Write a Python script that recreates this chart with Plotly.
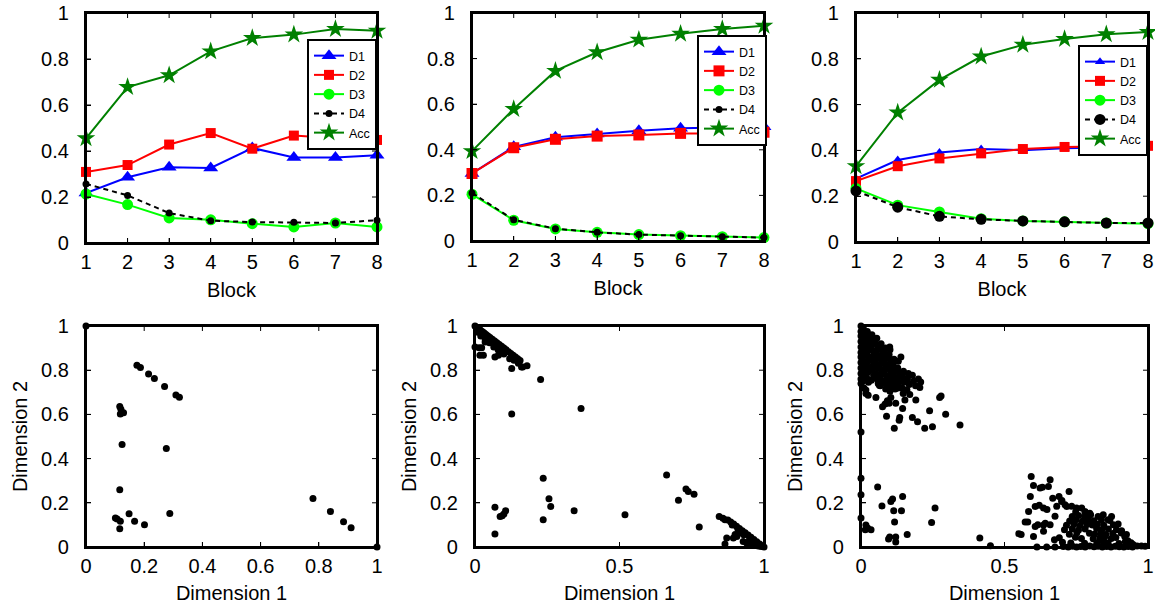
import plotly.graph_objects as go

# ---------------- data ----------------
blocks = [1, 2, 3, 4, 5, 6, 7, 8]
series_names = ["D1", "D2", "D3", "D4", "Acc"]
unit_ticks = [0, 0.2, 0.4, 0.6, 0.8, 1]
half_ticks = [0, 0.5, 1]

p1_d1 = [0.217, 0.286, 0.329, 0.326, 0.413, 0.372, 0.372, 0.381]
p1_d2 = [0.309, 0.339, 0.428, 0.478, 0.410, 0.467, 0.455, 0.448]
p1_d3 = [0.213, 0.167, 0.109, 0.101, 0.084, 0.070, 0.087, 0.070]
p1_d4 = [0.257, 0.207, 0.130, 0.097, 0.091, 0.090, 0.087, 0.099]
p1_acc = [0.455, 0.678, 0.729, 0.833, 0.891, 0.906, 0.930, 0.923]

p2_d1 = [0.296, 0.413, 0.455, 0.469, 0.484, 0.494, 0.499, 0.501]
p2_d2 = [0.296, 0.409, 0.446, 0.460, 0.465, 0.472, 0.472, 0.477]
p2_d3 = [0.205, 0.091, 0.053, 0.038, 0.028, 0.023, 0.019, 0.015]
p2_d4 = [0.211, 0.093, 0.054, 0.038, 0.028, 0.023, 0.019, 0.015]
p2_acc = [0.394, 0.579, 0.746, 0.828, 0.883, 0.909, 0.930, 0.944]

p3_d1 = [0.277, 0.358, 0.391, 0.406, 0.401, 0.409, 0.413, 0.415]
p3_d2 = [0.266, 0.331, 0.365, 0.387, 0.406, 0.415, 0.416, 0.420]
p3_d3 = [0.234, 0.161, 0.131, 0.102, 0.092, 0.088, 0.083, 0.080]
p3_d4 = [0.223, 0.152, 0.112, 0.099, 0.092, 0.088, 0.083, 0.083]
p3_acc = [0.331, 0.565, 0.708, 0.810, 0.861, 0.886, 0.907, 0.917]

# bottom-left scatter
s1_x = [0.0, 1.0, 0.175, 0.187, 0.215, 0.235, 0.270, 0.309, 0.321, 0.116, 0.120, 0.118, 0.129,
        0.124, 0.276, 0.116, 0.101, 0.107, 0.118, 0.116, 0.148, 0.167, 0.201, 0.288, 0.780,
        0.840, 0.885, 0.911]
s1_y = [1.0, 0.0, 0.822, 0.812, 0.783, 0.762, 0.726, 0.688, 0.678, 0.636, 0.623, 0.602, 0.608,
        0.464, 0.446, 0.259, 0.131, 0.127, 0.116, 0.083, 0.151, 0.116, 0.101, 0.152, 0.220,
        0.161, 0.114, 0.087]

# bottom-middle scatter
s2_pts = [
    (0.0, 1.0), (0.004, 0.996), (0.008, 0.992), (0.012, 0.988), (0.016, 0.984), (0.02, 0.98),
    (0.026, 0.974), (0.032, 0.968), (0.038, 0.962), (0.045, 0.955), (0.052, 0.948), (0.06, 0.94),
    (0.068, 0.932), (0.076, 0.924), (0.084, 0.916), (0.092, 0.908), (0.1, 0.9), (0.108, 0.892),
    (0.116, 0.884), (0.124, 0.876), (0.132, 0.868), (0.14, 0.86), (0.148, 0.852), (0.156, 0.844),
    (0.01, 0.972), (0.02, 0.955), (0.035, 0.942), (0.05, 0.924), (0.065, 0.905), (0.08, 0.893),
    (0.1, 0.873), (0.12, 0.852), (0.135, 0.845), (0.15, 0.832), (0.165, 0.815), (0.18, 0.82),
    (0.0, 0.905), (0.014, 0.902), (0.023, 0.902), (0.017, 0.868), (0.029, 0.868), (0.035, 0.928),
    (0.069, 0.86), (0.081, 0.868), (0.092, 0.883), (0.127, 0.808), (0.161, 0.815),
    (0.227, 0.758), (0.127, 0.602), (0.367, 0.627), (0.236, 0.311), (0.256, 0.218), (0.262, 0.183),
    (0.236, 0.123), (0.069, 0.18), (0.087, 0.138), (0.094, 0.141), (0.1, 0.149), (0.106, 0.164),
    (0.069, 0.059), (0.343, 0.164), (0.519, 0.146), (0.663, 0.326), (0.704, 0.211), (0.730, 0.263),
    (0.738, 0.251), (0.758, 0.239), (0.776, 0.09),
    (0.845, 0.138), (0.858, 0.13), (0.865, 0.123), (0.875, 0.122), (0.885, 0.113), (0.895, 0.104),
    (0.905, 0.094), (0.915, 0.084), (0.925, 0.074), (0.935, 0.064), (0.945, 0.054), (0.955, 0.044),
    (0.965, 0.034), (0.975, 0.024), (0.985, 0.014), (0.993, 0.006), (1.0, 0.0),
    (0.871, 0.041), (0.865, 0.014), (0.894, 0.041), (0.906, 0.048), (0.917, 0.063), (0.9, 0.056),
    (0.928, 0.025), (0.94, 0.018), (0.951, 0.011), (0.969, 0.008), (0.91, 0.08), (0.93, 0.055),
    (0.95, 0.035), (0.96, 0.02), (0.98, 0.005), (0.99, 0.002), (0.92, 0.07), (0.89, 0.1),
]
s2_x = [p[0] for p in s2_pts]
s2_y = [p[1] for p in s2_pts]

# bottom-right scatter
s3_pts = [
    # upper-left cluster
    (0.0, 1.0), (0.0, 0.975), (0.0, 0.955), (0.0, 0.93), (0.0, 0.905), (0.0, 0.88), (0.0, 0.86),
    (0.0, 0.835), (0.0, 0.81), (0.0, 0.785), (0.0, 0.76), (0.0, 0.74),
    (0.008, 0.99), (0.01, 0.965), (0.006, 0.94), (0.012, 0.915), (0.008, 0.895), (0.011, 0.87),
    (0.007, 0.845), (0.013, 0.82), (0.009, 0.8), (0.012, 0.775), (0.006, 0.75), (0.01, 0.72),
    (0.022, 0.975), (0.025, 0.95), (0.02, 0.93), (0.027, 0.905), (0.023, 0.885), (0.026, 0.86),
    (0.021, 0.835), (0.028, 0.81), (0.024, 0.79), (0.02, 0.765), (0.026, 0.745),
    (0.038, 0.96), (0.042, 0.935), (0.036, 0.915), (0.04, 0.89), (0.043, 0.865), (0.037, 0.845),
    (0.041, 0.82), (0.039, 0.8), (0.044, 0.775), (0.036, 0.755),
    (0.055, 0.945), (0.052, 0.92), (0.058, 0.9), (0.054, 0.875), (0.057, 0.855), (0.051, 0.83),
    (0.059, 0.81), (0.053, 0.785), (0.056, 0.76), (0.06, 0.74),
    (0.07, 0.92), (0.068, 0.895), (0.073, 0.87), (0.071, 0.85), (0.066, 0.825), (0.074, 0.8),
    (0.069, 0.78), (0.072, 0.755), (0.067, 0.73),
    (0.085, 0.9), (0.082, 0.875), (0.088, 0.855), (0.084, 0.83), (0.087, 0.81), (0.081, 0.785),
    (0.089, 0.76), (0.083, 0.74), (0.086, 0.715),
    (0.1, 0.905), (0.098, 0.87), (0.103, 0.845), (0.097, 0.82), (0.102, 0.8), (0.099, 0.775),
    (0.104, 0.75), (0.096, 0.73), (0.101, 0.705),
    (0.115, 0.85), (0.112, 0.825), (0.118, 0.805), (0.113, 0.78), (0.117, 0.76), (0.111, 0.735),
    (0.119, 0.715), (0.13, 0.84), (0.128, 0.81), (0.133, 0.79), (0.127, 0.765), (0.132, 0.745),
    (0.129, 0.72), (0.139, 0.86), (0.148, 0.795), (0.145, 0.77), (0.15, 0.745), (0.143, 0.72),
    (0.147, 0.695), (0.165, 0.785), (0.162, 0.76), (0.168, 0.735), (0.16, 0.71), (0.17, 0.69),
    (0.179, 0.777), (0.183, 0.75), (0.19, 0.73), (0.205, 0.722), (0.208, 0.747), (0.2, 0.76),
    (0.025, 0.687), (0.017, 0.695), (0.052, 0.677), (0.075, 0.635), (0.089, 0.592), (0.084, 0.647),
    (0.098, 0.65), (0.116, 0.537), (0.133, 0.574), (0.135, 0.586), (0.145, 0.627), (0.153, 0.665),
    (0.179, 0.586), (0.197, 0.567), (0.156, 0.71), (0.191, 0.665), (0.222, 0.537), (0.239, 0.617),
    (0.249, 0.544), (0.274, 0.677), (0.279, 0.683), (0.295, 0.601), (0.345, 0.552), (0.121, 0.65),
    (0.104, 0.677), (0.092, 0.662), (0.101, 0.893), (0.092, 0.86), (0.064, 0.898), (0.058, 0.853),
    (0.029, 0.95), (0.046, 0.77), (0.064, 0.732), (0.017, 0.71), (0.11, 0.725), (0.127, 0.747),
    (0.116, 0.762), (0.081, 0.747), (0.081, 0.785), (0.0, 0.52), (0.0, 0.311), (0.0, 0.236),
    (0.0, 0.131),
    # lower-left scatter
    (0.058, 0.271), (0.073, 0.186), (0.104, 0.206), (0.11, 0.217), (0.114, 0.164), (0.141, 0.164),
    (0.145, 0.229), (0.117, 0.113), (0.096, 0.036), (0.1, 0.045), (0.121, 0.045), (0.121, 0.023),
    (0.161, 0.056), (0.246, 0.111), (0.258, 0.176), (0.017, 0.1), (0.023, 0.086), (0.035, 0.078),
    (0.015, 0.078), (0.414, 0.041), (0.451, 0.006),
    # lower-right cluster (outer)
    (0.593, 0.319), (0.601, 0.278), (0.624, 0.267), (0.632, 0.27), (0.659, 0.304), (0.653, 0.274),
    (0.668, 0.221), (0.69, 0.229), (0.70, 0.21), (0.725, 0.251), (0.59, 0.229), (0.607, 0.183),
    (0.621, 0.189), (0.636, 0.176), (0.648, 0.17), (0.584, 0.161), (0.572, 0.113), (0.581, 0.113),
    (0.558, 0.056), (0.55, 0.06), (0.601, 0.048), (0.607, 0.093), (0.636, 0.1), (0.659, 0.101),
    (0.676, 0.139), (0.682, 0.184), (0.711, 0.191), (0.734, 0.184), (0.751, 0.176), (0.769, 0.176),
    (0.78, 0.161), (0.797, 0.153), (0.826, 0.138), (0.844, 0.146), (0.861, 0.123), (0.879, 0.101),
    (0.89, 0.078), (0.907, 0.063), (0.919, 0.048), (0.93, 0.028), (0.642, 0.108), (0.616, 0.101),
    (0.636, 0.071), (0.674, 0.033), (0.699, 0.206), (0.717, 0.183), (0.8, 0.146), (0.838, 0.123),
    (0.873, 0.138), (0.867, 0.12), (0.896, 0.104), (0.908, 0.074), (0.925, 0.056), (0.948, 0.011),
    # lower-right cluster (core)
    (0.613, 0.0), (0.647, 0.0), (0.676, 0.0), (0.705, 0.002), (0.722, 0.0), (0.737, 0.003),
    (0.751, 0.0), (0.766, 0.002), (0.781, 0.0), (0.797, 0.004), (0.812, 0.001), (0.826, 0.003),
    (0.841, 0.0), (0.856, 0.002), (0.871, 0.0), (0.886, 0.003), (0.9, 0.001), (0.916, 0.0),
    (0.931, 0.002), (0.946, 0.0), (0.962, 0.004), (0.977, 0.005), (0.99, 0.003),
    (0.702, 0.021), (0.731, 0.018), (0.779, 0.017), (0.822, 0.019),
    (0.843, 0.025), (0.861, 0.018), (0.899, 0.016), (0.921, 0.024), (0.941, 0.019),
    (0.691, 0.042), (0.747, 0.044), (0.768, 0.039), (0.809, 0.037),
    (0.832, 0.041), (0.849, 0.045), (0.872, 0.038), (0.888, 0.043),
    (0.726, 0.058), (0.752, 0.064), (0.796, 0.062), (0.814, 0.059),
    (0.836, 0.063), (0.853, 0.057), (0.877, 0.061),
    (0.709, 0.078), (0.736, 0.083), (0.758, 0.077), (0.781, 0.082),
    (0.821, 0.084), (0.839, 0.078), (0.862, 0.081),
    (0.716, 0.098), (0.742, 0.103), (0.763, 0.097), (0.787, 0.102), (0.806, 0.099),
    (0.824, 0.104), (0.846, 0.098),
    (0.727, 0.118), (0.749, 0.123), (0.771, 0.117), (0.792, 0.122), (0.811, 0.119),
    (0.736, 0.138), (0.758, 0.143), (0.779, 0.137),
    (0.748, 0.158),
]
s3_x = [p[0] for p in s3_pts]
s3_y = [p[1] for p in s3_pts]

# ---------------- styling ----------------
FONT = "Liberation Sans, Arial, Helvetica, sans-serif"
BLUE, RED, LIME, BLACK, DKGREEN = "#0000ff", "#ff0000", "#00ff00", "#000000", "#008000"
W, H = 1155, 616
NB = "\u00a0\u00a0"  # gap between y tick labels and the axis

# panel boxes in pixels: (left, right, top, bottom)
tops = [(86, 377, 13, 243), (472, 764, 13, 241), (856, 1148, 13, 242)]
bots = [(86, 377, 326, 547), (475, 764, 326, 547), (861, 1148, 326, 547)]

panels_top = [
    (p1_d1, p1_d2, p1_d3, p1_d4, p1_acc, "legend", (13, 10, 11, 7, 14)),
    (p2_d1, p2_d2, p2_d3, p2_d4, p2_acc, "legend2", (13, 11, 11, 7, 14)),
    (p3_d1, p3_d2, p3_d3, p3_d4, p3_acc, "legend3", (9, 10, 11, 11, 14)),
]

fig = go.Figure()

for i, (d1, d2, d3, d4, acc, leg, sz) in enumerate(panels_top):
    ax = "" if i == 0 else str(i + 1)
    specs = [
        (d1, BLUE, "triangle-up", "solid", sz[0]),
        (d2, RED, "square", "solid", sz[1]),
        (d3, LIME, "circle", "solid", sz[2]),
        (d4, BLACK, "circle", "5px,4px", sz[3]),
        (acc, DKGREEN, "star", "solid", sz[4]),
    ]
    for name, (vals, col, sym, dash, msz) in zip(series_names, specs):
        fig.add_trace(go.Scatter(
            x=blocks, y=vals, name=name, mode="lines+markers",
            line=dict(color=col, width=2, dash=dash),
            marker=dict(color=col, symbol=sym, size=msz),
            xaxis="x" + ax, yaxis="y" + ax, legend=leg, cliponaxis=False,
        ))

for j, (sx, sy) in enumerate([(s1_x, s1_y), (s2_x, s2_y), (s3_x, s3_y)]):
    n = str(j + 4)
    fig.add_trace(go.Scatter(
        x=sx, y=sy, mode="markers", showlegend=False,
        marker=dict(color="black", size=7, symbol="circle"),
        xaxis="x" + n, yaxis="y" + n, cliponaxis=False,
    ))


def xd(a, b):
    return [a / W, b / W]


def yd(top, bot):
    return [1 - bot / H, 1 - top / H]


axis_common = dict(
    showline=True, mirror=True, linecolor="black", linewidth=2,
    ticks="inside", tickcolor="black", ticklen=5,
    tickfont=dict(family=FONT, size=20, color="black"), automargin=False,
)

layout = dict(
    width=W, height=H, margin=dict(l=0, r=0, t=0, b=0),
    paper_bgcolor="white", plot_bgcolor="rgba(0,0,0,0)",
)

panel_defs = []  # (axis suffix, x range, y range, x ticks, y ticks, box)
for i, box in enumerate(tops):
    panel_defs.append(("" if i == 0 else str(i + 1), [1, 8], [0, 1], blocks, unit_ticks, box))
for j, box in enumerate(bots):
    panel_defs.append((str(j + 4), [0, 1], [0, 1], unit_ticks if j == 0 else half_ticks,
                       unit_ticks, box))

for k, (ax, xr, yr, xt, yt, (l, r, t, b)) in enumerate(panel_defs):
    is_top = k < 3
    layout["xaxis" + ax] = dict(
        axis_common, domain=xd(l, r), range=xr, tickvals=xt, anchor="y" + ax,
        title=dict(text="Block" if is_top else "Dimension 1",
                   font=dict(family=FONT, size=20, color="black"),
                   standoff=11 if is_top else 10),
    )
    ydict = dict(
        axis_common, domain=yd(t, b), range=yr, tickvals=yt,
        ticktext=[("%g" % v) + NB for v in yt], anchor="x" + ax,
    )
    if not is_top:
        ydict["title"] = dict(text="Dimension 2", font=dict(family=FONT, size=20, color="black"),
                              standoff=8)
    layout["yaxis" + ax] = ydict

# Overlay (hidden) axes, a few pixels larger than each panel, carrying the
# panel box and its inward ticks in the panel's own data units.
PAD = 8
for k, (ax, xr, yr, xt, yt, (l, r, t, b)) in enumerate(panel_defs):
    on = str(k + 7)
    pl, pr = min(PAD, l), min(PAD, W - r)
    pt, pb = min(PAD, t), min(PAD, H - b)
    sx = (xr[1] - xr[0]) / (r - l)
    sy = (yr[1] - yr[0]) / (b - t)
    layout["xaxis" + on] = dict(visible=False, domain=[(l - pl) / W, (r + pr) / W],
                                range=[xr[0] - pl * sx, xr[1] + pr * sx], anchor="y" + on)
    layout["yaxis" + on] = dict(visible=False, domain=[1 - (b + pb) / H, 1 - (t - pt) / H],
                                range=[yr[0] - pb * sy, yr[1] + pt * sy], anchor="x" + on)
    fig.add_trace(go.Scatter(
        x=[xr[0], xr[1], xr[1], xr[0], xr[0]], y=[yr[0], yr[0], yr[1], yr[1], yr[0]],
        mode="lines", line=dict(color="black", width=2), showlegend=False,
        xaxis="x" + on, yaxis="y" + on,
    ))
    tx, ty = [], []
    for v in xt:
        if xr[0] < v < xr[1]:
            tx += [v, v, None, v, v, None]
            ty += [yr[0], yr[0] + 5 * sy, None, yr[1], yr[1] - 5 * sy, None]
    for v in yt:
        if yr[0] < v < yr[1]:
            tx += [xr[0], xr[0] + 5 * sx, None, xr[1], xr[1] - 5 * sx, None]
            ty += [v, v, None, v, v, None]
    fig.add_trace(go.Scatter(
        x=tx, y=ty, mode="lines", line=dict(color="black", width=1), showlegend=False,
        xaxis="x" + on, yaxis="y" + on,
    ))

leg_common = dict(
    bgcolor="white", bordercolor="black", borderwidth=2,
    font=dict(family=FONT, size=12.5, color="black"),
    xanchor="left", yanchor="top",
)
layout["legend"] = dict(leg_common, x=307 / W, y=1 - 39 / H)
layout["legend2"] = dict(leg_common, x=697 / W, y=1 - 35 / H)
layout["legend3"] = dict(leg_common, x=1078 / W, y=1 - 45 / H)

fig.update_layout(**layout)
fig.write_html("out.html")
